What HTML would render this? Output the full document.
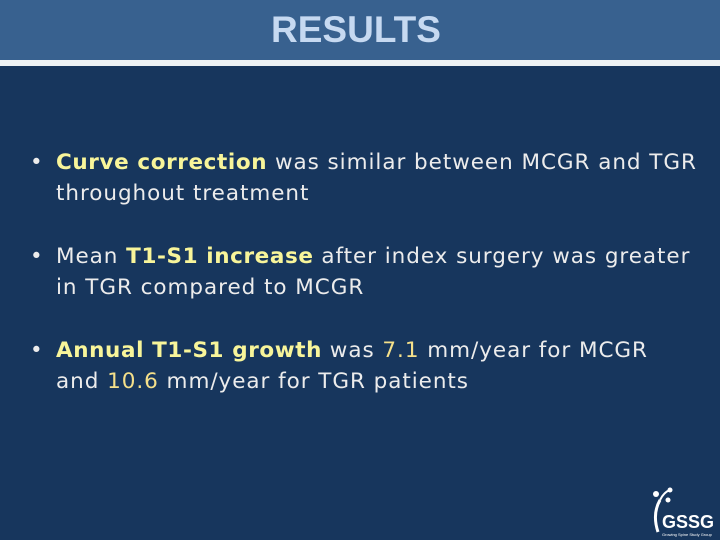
<!DOCTYPE html>
<html><head><meta charset="utf-8"><style>
body{margin:0;width:720px;height:540px;overflow:hidden;background:#17365d;font-family:"DejaVu Sans","Liberation Sans",sans-serif;position:relative}
#hdr{position:absolute;left:0;top:0;width:720px;height:60px;background:#38618f}
#title{position:absolute;left:0;width:712px;top:9px;text-align:center;font:bold 37px "Liberation Sans",sans-serif;color:#c6d9f1}
#line{position:absolute;left:0;top:60px;width:720px;height:6px;background:#eef2f5}
.b{position:absolute;left:30px;width:700px;font-size:21.5px;line-height:31px;color:#ececec;white-space:nowrap;letter-spacing:0.95px}
.b span.dot{position:absolute;left:0}
.b div{margin-left:26px}
.y{color:#f5e08a}
.k{color:#f8f59a;font-weight:bold;letter-spacing:0.6px}
</style></head><body>
<div id="hdr"></div>
<div id="title">RESULTS</div>
<div id="line"></div>
<div class="b" style="top:147px"><span class="dot">•</span><div><span class="k">Curve correction</span> was similar between MCGR and TGR<br>throughout treatment</div></div>
<div class="b" style="top:241px"><span class="dot">•</span><div>Mean <span class="k">T1-S1 increase</span> after index surgery was greater<br>in TGR compared to MCGR</div></div>
<div class="b" style="top:335px"><span class="dot">•</span><div><span class="k">Annual T1-S1 growth</span> was <span class="y">7.1</span> mm/year for MCGR<br>and <span class="y">10.6</span> mm/year for TGR patients</div></div>
<svg style="position:absolute;left:648px;top:486px" width="72" height="54">
<path d="M12 14 Q4 28 10 46" stroke="#fff" stroke-width="3" fill="none"/>
<path d="M12 14 Q16 6 22 4" stroke="#fff" stroke-width="2" fill="none"/>
<circle cx="8" cy="8" r="3" fill="#fff"/><circle cx="22" cy="4" r="2.5" fill="#fff"/><circle cx="20" cy="14" r="2.5" fill="#fff"/>
<text x="14" y="42" font-family="Liberation Sans" font-weight="bold" font-size="18" fill="#fff">GSSG</text>
<text x="14" y="50" font-family="Liberation Sans" font-size="4" fill="#fff">Growing Spine Study Group</text>
</svg>
</body></html>
